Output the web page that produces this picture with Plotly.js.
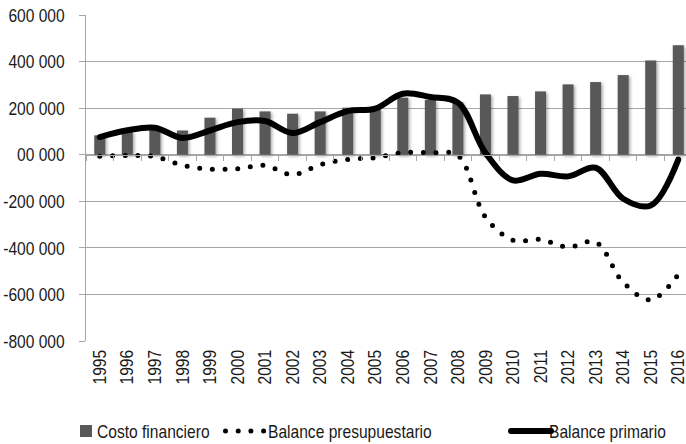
<!DOCTYPE html>
<html><head><meta charset="utf-8">
<script src="https://cdn.plot.ly/plotly-3.0.1.min.js"></script>
<style>html,body{margin:0;padding:0;background:#fff}#chart{width:686px;height:444px}</style>
</head><body><div id="chart"></div>
<script>
const years = ['1995','1996','1997','1998','1999','2000','2001','2002','2003','2004','2005','2006','2007','2008','2009','2010','2011','2012','2013','2014','2015','2016'];
const costoFinanciero = [83000, 100000, 115000, 104000, 159000, 198000, 186000, 176000, 186000, 202000, 198000, 245000, 236000, 226000, 259000, 252000, 272000, 302000, 312000, 342000, 405000, 470000];
const balancePresupuestario = [-7000, -3000, -8000, -45000, -62000, -60000, -46000, -86000, -43000, -20000, -13000, 9000, 8000, -3000, -268000, -367000, -364000, -397000, -375000, -548000, -623000, -514000];
const balancePrimario = [76000, 105000, 116000, 72000, 104000, 140000, 145000, 93000, 140000, 187000, 198000, 262000, 248000, 224000, 8000, -110000, -82000, -93000, -56000, -189000, -218000, -21000];
const yTickVals = [600000, 400000, 200000, 0, -200000, -400000, -600000, -800000];
const yTickText = ['600 000', '400 000', '200 000', '00 000', '-200 000', '-400 000', '-600 000', '-800 000'];
const seriesNames = ['Costo financiero', 'Balance presupuestario', 'Balance primario'];

const FONT = '"Liberation Sans", Arial, sans-serif';
const FSIZE = 19;
const TXT = '#1a1a1a';
const GRID = '#a6a6a6';
const NARROW = 0.82;
const xRange = [-0.5, 21.28];
// legend entry placement (symbol left edge, text left edge, row centre), in page pixels
const LEGEND_SLOTS = [[80, 97], [223, 268], [508, 549]];
const LEGEND_ROW_Y = 431;

const traces = [
  {type: 'bar', name: seriesNames[0], x: years, y: costoFinanciero, width: 0.4,
   marker: {color: '#595959', line: {width: 0}}},
  {type: 'scatter', mode: 'lines', name: seriesNames[1], x: years, y: balancePresupuestario,
   line: {color: '#000', width: 5, dash: '0px,12.7px', shape: 'spline', smoothing: 1}},
  {type: 'scatter', mode: 'lines', name: seriesNames[2], x: years, y: balancePrimario,
   line: {color: '#000', width: 6, shape: 'spline', smoothing: 1}},
  {type: 'scatter', mode: 'lines', x: years, y: years.map(() => null), xaxis: 'x2',
   showlegend: false, hoverinfo: 'skip'}
];

const layout = {
  width: 686, height: 444,
  margin: {l: 86, r: 0, t: 15, b: 103},
  paper_bgcolor: '#fff', plot_bgcolor: '#fff',
  font: {family: FONT, size: FSIZE, color: TXT},
  showlegend: true,
  xaxis: {type: 'category', categoryorder: 'array', categoryarray: years, range: xRange,
    showgrid: false, showline: false, zeroline: false, ticks: '', tickangle: -90,
    tickfont: {family: FONT, size: FSIZE, color: TXT}, ticklabelstandoff: 4},
  xaxis2: {type: 'category', categoryorder: 'array', categoryarray: years, range: xRange,
    overlaying: 'x', anchor: 'free', position: 4/7, side: 'bottom',
    showgrid: false, zeroline: false, showline: true, linecolor: GRID, linewidth: 1.5,
    ticks: 'outside', ticklen: 5, tickcolor: GRID, tickwidth: 1, tickson: 'boundaries',
    showticklabels: false},
  yaxis: {range: [-800000, 600000], tickvals: yTickVals, ticktext: yTickText,
    showgrid: true, gridcolor: GRID, gridwidth: 1, zeroline: false,
    showline: true, linecolor: GRID, linewidth: 1.5, ticks: 'outside', ticklen: 6,
    tickcolor: GRID, ticklabelstandoff: 10,
    tickfont: {family: FONT, size: FSIZE, color: TXT}},
  legend: {orientation: 'h', xref: 'container', yref: 'container', x: 0, y: 13 / 444,
    xanchor: 'left', yanchor: 'middle', font: {family: FONT, size: FSIZE, color: TXT},
    itemwidth: 40, entrywidth: 90, traceorder: 'normal',
    bgcolor: 'rgba(0,0,0,0)', borderwidth: 0}
};

const measureCtx = document.createElement('canvas').getContext('2d');
measureCtx.font = FSIZE + 'px "Liberation Sans"';

function setAttr(el, k, v) { if (el.getAttribute(k) !== String(v)) el.setAttribute(k, v); }

function decorate() {
  const gd = document.getElementById('chart');
  const svg = gd.querySelector('svg.main-svg');
  if (svg && !document.getElementById('barshadow')) {
    const ns = 'http://www.w3.org/2000/svg';
    const defs = document.createElementNS(ns, 'defs');
    const f = document.createElementNS(ns, 'filter');
    f.setAttribute('id', 'barshadow');
    f.setAttribute('x', '-50%'); f.setAttribute('y', '-20%');
    f.setAttribute('width', '200%'); f.setAttribute('height', '140%');
    const ds = document.createElementNS(ns, 'feDropShadow');
    ds.setAttribute('dx', '1.5'); ds.setAttribute('dy', '1.5');
    ds.setAttribute('stdDeviation', '1.5');
    ds.setAttribute('flood-color', '#000'); ds.setAttribute('flood-opacity', '0.35');
    f.appendChild(ds); defs.appendChild(f); svg.insertBefore(defs, svg.firstChild);
  }
  gd.querySelectorAll('.barlayer .point path').forEach(p => setAttr(p, 'filter', 'url(#barshadow)'));
  gd.querySelectorAll('.scatterlayer .trace path.js-line, .legendlines path').forEach(p => {
    if (p.style.strokeLinecap !== 'round') p.style.strokeLinecap = 'round';
  });
  // narrow (condensed) lettering like the reference's Arial Narrow
  gd.querySelectorAll('.xtick text, .ytick text, .legendtext').forEach(t => {
    const L = measureCtx.measureText(t.textContent).width;
    if (L > 0) {
      setAttr(t, 'textLength', (L * NARROW).toFixed(2));
      setAttr(t, 'lengthAdjust', 'spacingAndGlyphs');
    }
  });
  // place legend entries on one row as in the reference
  gd.querySelectorAll('g.legend .scrollbox').forEach(s => s.removeAttribute('clip-path'));
  const items = gd.querySelectorAll('g.legend g.traces');
  items.forEach((g, i) => {
    const slot = LEGEND_SLOTS[i];
    if (!slot) return;
    const sym = g.querySelector('.legendpoints path, .legendlines path');
    if (sym) {
      const r = sym.getBoundingClientRect();
      const lw = parseFloat(getComputedStyle(sym).strokeWidth) || 0;
      const isLine = !!sym.closest('.legendlines');
      const left = isLine ? r.left - lw / 2 : r.left;
      const cy = isLine ? r.top + r.height / 2 : (r.top + r.bottom) / 2;
      const dx = slot[0] - left;
      const dy = LEGEND_ROW_Y - cy;
      if (Math.abs(dx) > 0.3 || Math.abs(dy) > 0.3) {
        const m = /translate\(\s*([-\d.e]+)[ ,]+([-\d.e]+)\s*\)/.exec(g.getAttribute('transform') || '');
        const tx = m ? parseFloat(m[1]) : 0, ty = m ? parseFloat(m[2]) : 0;
        g.setAttribute('transform', 'translate(' + (tx + dx) + ',' + (ty + dy) + ')');
      }
    }
    const t = g.querySelector('.legendtext');
    if (t) {
      const r = t.getBoundingClientRect();
      const d = slot[1] - r.left;
      if (Math.abs(d) > 0.3) t.setAttribute('x', (parseFloat(t.getAttribute('x')) || 0) + d);
    }
  });
}

const gdEl = document.getElementById('chart');
Plotly.newPlot(gdEl, traces, layout, {displayModeBar: false, staticPlot: true}).then(() => {
  decorate();
  gdEl.on('plotly_afterplot', decorate);
  new MutationObserver(() => decorate()).observe(gdEl, {childList: true, subtree: true, characterData: true});
  [0, 50, 150, 300, 600, 1000].forEach(ms => setTimeout(decorate, ms));
});
</script>
</body></html>
